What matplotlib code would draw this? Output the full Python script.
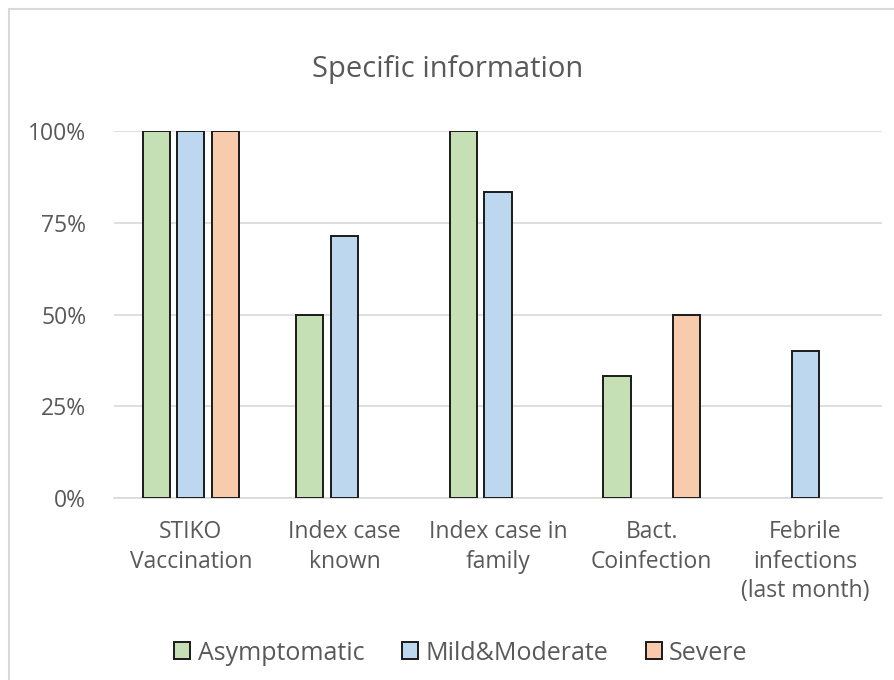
import matplotlib
matplotlib.use("Agg")
import matplotlib.pyplot as plt
import numpy as np
from matplotlib.patches import Rectangle, Patch
from matplotlib.ticker import FuncFormatter

plt.rcParams['font.family'] = ['Open Sans', 'DejaVu Sans']

categories = ["STIKO\nVaccination", "Index case\nknown", "Index case in\nfamily",
              "Bact.\nCoinfection", "Febrile\ninfections\n(last month)"]
series_names = ["Asymptomatic", "Mild&Moderate", "Severe"]
asymptomatic = [1.00, 0.50, 1.00, 0.333, 0.0]
mild_moderate = [1.00, 0.714, 0.833, 0.0, 0.40]
severe = [1.00, 0.0, 0.0, 0.50, 0.0]
y_ticks = [0.0, 0.25, 0.50, 0.75, 1.00]

colors = ["#c5e0b4", "#bdd7ee", "#f8cbad"]
text_color = "#595959"
grid_color = "#d9d9d9"

fig = plt.figure(figsize=(8.95, 6.8), dpi=100)
W, H = 895, 680
ax = fig.add_axes([114 / W, (H - 498) / H, (882 - 114) / W, (498 - 131) / H])

# outer chart-area frame
fig.patches.append(Rectangle((9 / W, -0.1), 1.2, (H - 9) / H + 0.1,
                             transform=fig.transFigure, fill=False,
                             edgecolor=grid_color, linewidth=1.5))

x = np.arange(len(categories))
width = 0.177
offsets = [-0.225, 0.0, 0.225]
for vals, off, col in zip([asymptomatic, mild_moderate, severe], offsets, colors):
    for xi, v in zip(x, vals):
        if v > 0:
            ax.bar(xi + off, v, width=width, color=col, edgecolor="#1a1a1a",
                   linewidth=1.4, zorder=3)

ax.set_xlim(-0.5, len(categories) - 0.5)
ax.set_ylim(0, 1.0)
ax.set_yticks(y_ticks)
ax.yaxis.set_major_formatter(FuncFormatter(lambda v, p: f"{v * 100:.0f}%"))
ax.set_xticks(x)
ax.set_xticklabels(categories, linespacing=1.3)
ax.tick_params(axis='both', length=0, colors=text_color, labelsize=16.5)
ax.tick_params(axis='x', pad=16)
ax.tick_params(axis='y', pad=20)
ax.grid(axis='y', color=grid_color, linewidth=1.2, zorder=0)
for s in ["top", "right", "left"]:
    ax.spines[s].set_visible(False)
ax.spines["bottom"].set_color(grid_color)
ax.spines["bottom"].set_linewidth(1.2)
ax.set_axisbelow(True)

fig.text(448 / W, 1 - 70 / H, "Specific information", ha="center", va="center",
         fontsize=21, color=text_color)

handles = [Patch(facecolor=c, edgecolor="#1a1a1a", linewidth=1.4) for c in colors]
fig.legend(handles, series_names, loc="center", bbox_to_anchor=(461 / W, 1 - 653 / H),
           ncol=3, frameon=False, fontsize=18, labelcolor=text_color,
           handlelength=0.64, handleheight=0.64, handletextpad=0.3, columnspacing=1.5)

fig.savefig("out.png", dpi=100, facecolor="white")
